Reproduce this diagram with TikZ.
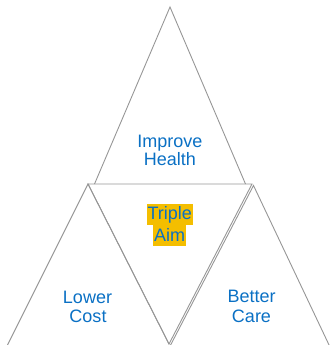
\documentclass[tikz,border=0pt]{standalone}
\usepackage{fontspec}
\setmainfont{Liberation Sans}
\begin{document}
\definecolor{aimblue}{RGB}{10,112,196}
\definecolor{aimgold}{RGB}{244,190,0}
\definecolor{edgegray}{RGB}{150,150,150}
\begin{tikzpicture}[x=1pt,y=-1pt,
  edge/.style={draw=edgegray,line width=0.9pt,line join=miter},
  lbl/.style={inner sep=0pt,anchor=base,text=aimblue,font=\fontsize{18}{19}\selectfont},
  hl/.style={lbl,fill=aimgold,inner xsep=1pt,text height=15.7pt,text depth=5pt}]
\useasboundingbox (0,0) rectangle (330,345);

% the four triangles
\coordinate (topApex) at (170,7);
\coordinate (topL) at (94.5,184);
\coordinate (topR) at (245.5,184);
\coordinate (midL) at (88,184);
\coordinate (midR) at (252,184);
\coordinate (midB) at (169,344);
\coordinate (lftApex) at (88,184);
\coordinate (lftL) at (7.5,345);
\coordinate (rgtApex) at (253.5,185.5);
\coordinate (rgtL) at (170.6,345);
\coordinate (rgtR) at (330,347);

\draw[edge] (topL) -- (topApex) -- (topR);
\draw[edge] (midL) -- (midR) -- (midB) -- cycle;
\draw[edge] (lftL) -- (lftApex) -- (midB);
\draw[edge] (rgtL) -- (rgtApex) -- (rgtR);

% labels
\node[lbl] (improve) at (170,147) {Improve};
\node[lbl] (health) at (170,165.5) {Health};

\node[hl] (triple) at (169.7,219.7) {Triple};
\node[hl,text height=16.5pt,text depth=4pt] (aim) at (169.6,241.7) {Aim};

\node[lbl] (lower) at (87.5,303.3) {Lower};
\node[lbl] (cost) at (88,322.2) {Cost};

\node[lbl] (better) at (251.7,302.9) {Better};
\node[lbl] (care) at (251.5,322.2) {Care};
\end{tikzpicture}
\end{document}
